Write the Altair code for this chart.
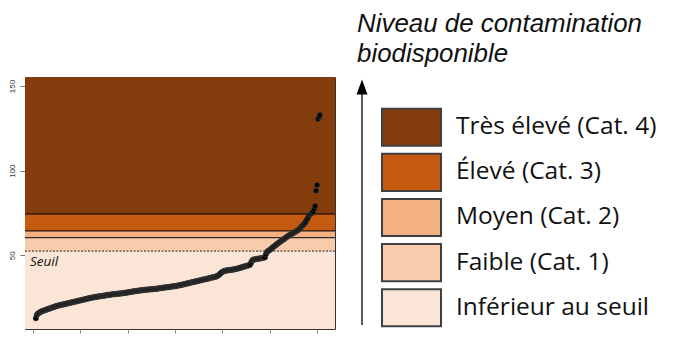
import altair as alt
import pandas as pd

# Sorted contamination values
values = [
    12.8, 14.8, 15.5, 15.9, 16.3, 16.6, 16.9, 17.1, 17.3, 17.5, 17.7,
    17.9, 18.1, 18.3, 18.5, 18.7, 18.9, 19.1, 19.3, 19.5, 19.7, 19.9, 20.1, 20.3,
    20.4, 20.5, 20.6, 20.8, 20.9, 21.0, 21.2, 21.3, 21.4, 21.6, 21.7, 21.8, 22.0, 22.1, 22.2, 22.4, 22.5, 22.6,
    22.7, 22.9, 23.0, 23.1, 23.3, 23.4, 23.5, 23.7, 23.8, 23.9, 24.1, 24.2, 24.3, 24.5, 24.6, 24.7, 24.9, 25.0,
    25.1, 25.2, 25.3, 25.4, 25.5, 25.6, 25.7, 25.8, 25.8, 25.9, 26.0, 26.1, 26.2, 26.3, 26.4, 26.5, 26.6,
    26.7, 26.7, 26.8, 26.9, 27.0, 27.0, 27.1, 27.2, 27.2, 27.3, 27.3, 27.4, 27.5, 27.5, 27.6, 27.7, 27.8, 27.8, 27.9,
    28.0, 28.1, 28.2, 28.3, 28.4, 28.5, 28.6, 28.7, 28.8, 28.8, 28.9, 29.0, 29.1, 29.2, 29.3, 29.3, 29.4, 29.5,
    29.6, 29.6, 29.7, 29.7, 29.8, 29.8, 29.9, 29.9, 30.0, 30.0, 30.1, 30.1, 30.2, 30.3, 30.3, 30.4, 30.5,
    30.6, 30.7, 30.7, 30.8, 30.9, 31.0, 31.1, 31.1, 31.2, 31.2, 31.3, 31.4, 31.5, 31.6, 31.7, 31.7, 31.8, 31.9, 32.0,
    32.1, 32.3, 32.4, 32.5, 32.6, 32.7, 32.9, 33.0,
    33.1, 33.3, 33.4, 33.5, 33.7, 33.8, 33.9, 34.1, 34.2, 34.3, 34.5, 34.6, 34.7, 34.9, 35.0,
    35.1, 35.3, 35.4, 35.6, 35.7, 35.8, 35.9, 36.0, 36.2, 36.3, 36.4, 36.6, 36.7, 36.9, 37.0, 37.1, 37.3, 37.4,
    37.6, 37.9, 38.3, 38.8, 39.3, 39.8, 40.2, 40.5, 40.7, 40.9,
    41.0, 41.1, 41.2, 41.3, 41.3, 41.4, 41.5, 41.6, 41.7, 41.8, 41.9,
    42.0, 42.2, 42.3, 42.5, 42.7, 42.8, 43.0, 43.2, 43.3, 43.5, 43.7, 43.8, 44.0, 44.2, 44.3,
    45.2, 46.4, 47.2, 47.5, 47.6,
    47.7, 47.8, 47.9, 48.0, 48.1, 48.2, 48.3, 48.4, 48.5, 48.7, 48.8,
    50.6, 51.8, 52.4, 52.8, 53.1,
    53.6, 54.0, 54.5, 55.0, 55.4, 55.9, 56.3, 56.8, 57.2, 57.6, 58.0,
    58.4, 58.8, 59.2, 59.6, 60.0, 60.4, 60.8, 61.2, 61.6, 62.0,
    62.3, 62.6, 62.9, 63.2, 63.6, 63.9, 64.2, 64.6, 64.9,
    65.4, 66.0, 66.6, 67.2, 67.8, 68.4, 68.9,
    69.8, 70.8, 71.8, 72.8, 73.8,
    74.3, 74.8, 75.2, 75.7,
    77.4, 79.1, 88.2, 91.5, 130.5, 131.6, 132.8,
]
ranks = list(range(3, 3 + len(values)))

categories = ["Très élevé (Cat. 4)", "Élevé (Cat. 3)", "Moyen (Cat. 2)",
              "Faible (Cat. 1)", "Inférieur au seuil"]
colors = ["#843C0C", "#C55A11", "#F4B183", "#F8CBAD", "#FBE5D6"]
band_low = [74.4, 64.4, 60.4, 52.5, 0.0]
band_high = [170.0, 74.4, 64.4, 60.4, 52.5]
seuil = 52.5
cat_limits = [74.4, 64.4, 60.4]
y_ticks = [50, 100, 150]
x_ticks = [0, 50, 100, 150, 200, 250, 300]
title_lines = ["Niveau de contamination", "biodisponible"]
seuil_label = "Seuil"

PW, PH = 310, 252

pts_df = pd.DataFrame({"rank": ranks, "value": values})
bands_df = pd.DataFrame({"cat": categories, "low": band_low, "high": band_high, "color": colors})
lim_df = pd.DataFrame({"v": cat_limits})
seuil_df = pd.DataFrame({"v": [seuil], "t": [seuil_label]})
leg_df = pd.DataFrame({"cat": categories, "color": colors})
title_df = pd.DataFrame({"line": list(range(len(title_lines))), "t": title_lines})
one = pd.DataFrame({"a": [0]})

xs = alt.Scale(domain=[-8.45, 319], nice=False, zero=False)
ys = alt.Scale(domain=[6.5, 155.3], nice=False, zero=False)
y_axis = alt.Axis(values=y_ticks, title=None, grid=False, domain=False,
                  tickSize=5, tickColor="#777", labelAngle=270, labelAlign="center",
                  labelBaseline="alphabetic", labelPadding=6, labelFont="Liberation Sans",
                  labelFontSize=8, labelColor="#333")

bands = alt.Chart(bands_df).mark_rect(clip=True).encode(
    x=alt.value(0), x2=alt.value(PW),
    y=alt.Y("low:Q", scale=ys, axis=y_axis), y2="high:Q",
    fill=alt.Fill("color:N", scale=None),
)
lims = alt.Chart(lim_df).mark_rule(color="black", strokeWidth=1).encode(
    y=alt.Y("v:Q", scale=ys, axis=y_axis)
)
seuil_rule = alt.Chart(seuil_df).mark_rule(color="#222", strokeWidth=1, strokeDash=[2, 1.5]).encode(
    y=alt.Y("v:Q", scale=ys, axis=y_axis)
)
seuil_text = alt.Chart(seuil_df).mark_text(
    align="left", baseline="top", dy=4, font="Open Sans", fontStyle="italic",
    fontSize=13.5, color="#111"
).encode(x=alt.value(5), y=alt.Y("v:Q", scale=ys, axis=y_axis), text="t:N")
points = alt.Chart(pts_df).mark_circle(size=30, color="black", opacity=1,
                                       stroke="#555", strokeWidth=0.5).encode(
    x=alt.X("rank:Q", scale=xs, axis=alt.Axis(values=x_ticks, labels=False, domain=False,
                                               tickSize=4, tickColor="#888", grid=False, title=None)),
    y=alt.Y("value:Q", scale=ys, axis=y_axis),
)
main = alt.layer(bands, lims, seuil_rule, points, seuil_text)

yb = alt.Scale(domain=categories, paddingInner=0.178, paddingOuter=0.382, align=0.92)
boxes = alt.Chart(leg_df).mark_rect(stroke="#404040", strokeWidth=2).encode(
    x=alt.value(357), x2=alt.value(416),
    y=alt.Y("cat:N", scale=yb, sort=categories, axis=None),
    fill=alt.Fill("color:N", scale=None),
)
labels = alt.Chart(leg_df).mark_text(align="left", baseline="middle", font="Open Sans",
                                     fontSize=24.5, color="#111").encode(
    x=alt.value(431),
    y=alt.Y("cat:N", scale=yb, sort=categories, axis=None),
    text="cat:N",
)
legend_entries = alt.layer(boxes, labels)

arrow_line = alt.Chart(one).mark_rule(color="black", strokeWidth=1.3).encode(
    x=alt.value(337), y=alt.value(12), y2=alt.value(248)
)
arrow_head = alt.Chart(one).mark_point(shape="M0,-1L0.73,1L-0.73,1Z", filled=True, size=225,
                                       color="black", opacity=1).encode(
    x=alt.value(337), y=alt.value(10)
)
title = alt.Chart(title_df).mark_text(align="left", baseline="alphabetic", font="Liberation Sans",
                                      fontStyle="italic", fontSize=25.9, color="#111").encode(
    x=alt.value(332),
    y=alt.Y("line:O", axis=None,
            scale=alt.Scale(type="point", domain=[0, 1], range=[-45.3, -15.3], padding=0)),
    text="t:N",
)
legend = alt.layer(legend_entries, arrow_line, arrow_head, title).resolve_scale(y="independent")

chart = alt.layer(main, legend).resolve_scale(
    x="independent", y="independent"
).properties(
    width=PW, height=PH,
    autosize=alt.AutoSizeParams(type="none"),
    padding={"left": 25, "top": 77, "right": 338, "bottom": 9},
    background="white",
).configure_view(stroke="#333", strokeWidth=1)

chart.save("out.html", embed_options={"renderer": "svg", "actions": False})
